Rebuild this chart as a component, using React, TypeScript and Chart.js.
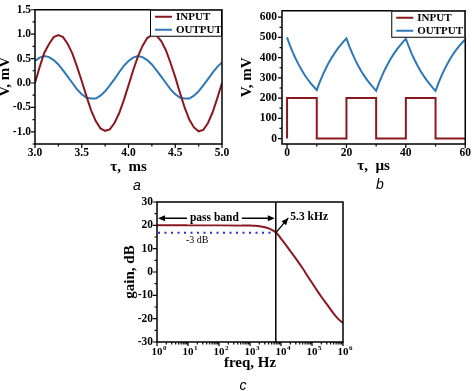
import React, { useEffect, useRef } from 'react';
import { Chart, registerables } from 'chart.js';

Chart.register(...registerables);

// ---------- Panel a: sine response ----------
const aTime = [3.0, 3.05, 3.1, 3.15, 3.2, 3.25, 3.3, 3.35, 3.4, 3.45, 3.5, 3.55, 3.6, 3.65, 3.7, 3.75, 3.8, 3.85, 3.9, 3.95, 4.0, 4.05, 4.1, 4.15, 4.2, 4.25, 4.3, 4.35, 4.4, 4.45, 4.5, 4.55, 4.6, 4.65, 4.7, 4.75, 4.8, 4.85, 4.9, 4.95, 5.0];
const aInput = [0, 0.33, 0.62, 0.8, 0.94, 0.98, 0.94, 0.8, 0.6, 0.33, 0.04, -0.27, -0.56, -0.78, -0.93, -0.98, -0.95, -0.82, -0.62, -0.35, -0.05, 0.26, 0.54, 0.76, 0.92, 0.98, 0.97, 0.86, 0.67, 0.41, 0.12, -0.2, -0.5, -0.75, -0.91, -0.99, -0.96, -0.82, -0.6, -0.31, 0.0];
const aOutput = [0.45, 0.52, 0.55, 0.53, 0.47, 0.38, 0.26, 0.13, 0.0, -0.13, -0.23, -0.3, -0.32, -0.32, -0.26, -0.17, -0.05, 0.08, 0.22, 0.35, 0.45, 0.52, 0.55, 0.53, 0.47, 0.38, 0.26, 0.13, 0.0, -0.13, -0.23, -0.3, -0.32, -0.32, -0.26, -0.17, -0.05, 0.08, 0.21, 0.33, 0.42];

// ---------- Panel b: square-wave response ----------
const bInputTime = [0, 0, 10, 10, 20, 20, 30, 30, 40, 40, 50, 50, 60];
const bInputValue = [0, 200, 200, 0, 0, 200, 200, 0, 0, 200, 200, 0, 0];
const bOutputTime = [0, 1, 2, 3, 4, 5, 6, 7, 8, 9, 10, 11, 12, 13, 14, 15, 16, 17, 18, 19, 20, 21, 22, 23, 24, 25, 26, 27, 28, 29, 30, 31, 32, 33, 34, 35, 36, 37, 38, 39, 40, 41, 42, 43, 44, 45, 46, 47, 48, 49, 50, 51, 52, 53, 54, 55, 56, 57, 58, 59, 60];
const bOutputValue = [
  500, 460, 424, 392, 363, 337, 313, 292, 273, 256, 240,
  279, 314, 345, 374, 399, 422, 443, 462, 479, 495,
  455, 420, 388, 359, 333, 310, 289, 270, 253, 236,
  276, 311, 343, 371, 397, 420, 441, 460, 477, 494,
  454, 419, 387, 359, 333, 310, 289, 270, 252, 236,
  275, 310, 342, 370, 396, 419, 440, 458, 475, 490,
];

// ---------- Panel c: frequency response ----------
const cFreq = [1, 10, 100, 500, 1000, 1500, 2000, 3000, 4000, 5000, 6000, 6800, 8000, 10000, 14000, 20000, 30000, 50000, 70000, 100000, 150000, 200000, 300000, 500000, 700000, 1000000];
const cGain = [20, 20, 20, 19.98, 19.92, 19.8, 19.62, 19.2, 18.7, 18.1, 17.5, 16.9, 16.0, 14.3, 11.8, 9.0, 5.8, 1.6, -1.5, -4.6, -8.2, -10.6, -13.8, -17.8, -20.1, -21.9];
const cutoffFreq = 6800;
const cutoffLabel = '5.3 kHz';
const minus3dBLevel = 16.8;
const minus3dBLabel = '-3 dB';
const passBandLabel = 'pass band';
const passBandLevel = 23;
const cutoffLabelFreq = 20000;
const cutoffLabelGain = 23.6;
const minus3dBLabelFreq = 8.6;
const minus3dBLabelGain = 13.6;

const seriesLabels = ['INPUT', 'OUTPUT'];
const panelLetters = ['a', 'b', 'c'];

const RED = '#8a1820';
const BLUE = '#2f77b5';
const DOT_BLUE = '#2a2ad8';
const SERIF = '"Liberation Serif", "Times New Roman", serif';

const toXY = (xs: number[], ys: number[]) => xs.map((x, i) => ({ x, y: ys[i] }));

function linearTicks(min: number, max: number, step: number, major: number) {
  return (scale: any) => {
    const ticks: any[] = [];
    const i0 = Math.ceil(min / step - 1e-9);
    const i1 = Math.floor(max / step + 1e-9);
    for (let i = i0; i <= i1; i++) {
      const v = Math.round(i * step * 1e6) / 1e6;
      const r = v / major;
      ticks.push({ value: v, major: Math.abs(r - Math.round(r)) < 1e-6 });
    }
    scale.ticks = ticks;
  };
}

function logTicks(minExp: number, maxExp: number) {
  return (scale: any) => {
    const ticks: any[] = [];
    for (let e = minExp; e <= maxExp; e++) {
      for (let m = 1; m <= 9; m++) {
        if (e === maxExp && m > 1) break;
        ticks.push({ value: m * Math.pow(10, e), major: m === 1 });
      }
    }
    scale.ticks = ticks;
  };
}

const tickFont = { family: SERIF, size: 11.5, weight: 'bold' as const, lineHeight: 1 };
const titleFont = { family: SERIF, size: 15, weight: 'bold' as const, lineHeight: 1 };

const axesPlugin = {
  id: 'originAxes',
  afterDatasetsDraw(chart: any) {
    const { ctx, chartArea: a } = chart;
    const xs = chart.scales.x;
    const ys = chart.scales.y;
    ctx.save();
    ctx.strokeStyle = '#000';
    ctx.lineWidth = 1.5;
    ctx.strokeRect(a.left, a.top, a.right - a.left, a.bottom - a.top);
    ctx.lineWidth = 1.2;
    ctx.beginPath();
    xs.ticks.forEach((t: any) => {
      const p = xs.getPixelForValue(t.value);
      const len = t.major ? 4 : 2.5;
      ctx.moveTo(p, a.bottom);
      ctx.lineTo(p, a.bottom + len);
    });
    ys.ticks.forEach((t: any) => {
      const p = ys.getPixelForValue(t.value);
      const len = t.major ? 4 : 2.5;
      ctx.moveTo(a.left, p);
      ctx.lineTo(a.left - len, p);
    });
    ctx.stroke();
    ctx.restore();
  },
};

// exponent superscripts for the log axis "10" labels
const exponentPlugin = {
  id: 'logExponents',
  afterDraw(chart: any) {
    const { ctx, chartArea: a } = chart;
    const xs = chart.scales.x;
    ctx.save();
    ctx.font = `bold 11px ${SERIF}`;
    const baseW = ctx.measureText('10').width;
    ctx.font = `bold 7px ${SERIF}`;
    ctx.fillStyle = '#000';
    ctx.textAlign = 'left';
    ctx.textBaseline = 'middle';
    xs.ticks.forEach((t: any) => {
      if (!t.major) return;
      const p = xs.getPixelForValue(t.value);
      const e = String(Math.round(Math.log10(t.value)));
      ctx.fillText(e, p + baseW / 2 + 0.5, a.bottom + 6.5);
    });
    ctx.restore();
  },
};

function legendPlugin(boxW: number, boxH: number) {
  return {
    id: 'insideLegend',
    afterDraw(chart: any) {
      const { ctx, chartArea: a } = chart;
      const left = a.right - boxW;
      const top = a.top;
      ctx.save();
      ctx.fillStyle = '#fff';
      ctx.fillRect(left, top, boxW, boxH);
      ctx.strokeStyle = '#000';
      ctx.lineWidth = 1;
      ctx.strokeRect(left + 0.5, top + 0.5, boxW - 1, boxH - 1);
      chart.data.datasets.forEach((ds: any, i: number) => {
        const y = top + 7 + i * 13;
        ctx.strokeStyle = ds.borderColor;
        ctx.lineWidth = 2;
        ctx.beginPath();
        ctx.moveTo(left + 5, y);
        ctx.lineTo(left + 22, y);
        ctx.stroke();
        ctx.fillStyle = '#000';
        ctx.font = `bold 11px ${SERIF}`;
        ctx.textBaseline = 'middle';
        ctx.textAlign = 'left';
        ctx.fillText(ds.label, left + 26, y + 0.5);
      });
      ctx.restore();
    },
  };
}

function arrowHead(ctx: any, fx: number, fy: number, tx: number, ty: number, len = 7, half = 3) {
  const ang = Math.atan2(ty - fy, tx - fx);
  ctx.beginPath();
  ctx.moveTo(tx, ty);
  ctx.lineTo(tx - len * Math.cos(ang) + half * Math.sin(ang), ty - len * Math.sin(ang) - half * Math.cos(ang));
  ctx.lineTo(tx - len * Math.cos(ang) - half * Math.sin(ang), ty - len * Math.sin(ang) + half * Math.cos(ang));
  ctx.closePath();
  ctx.fill();
}

const bodePlugin = {
  id: 'bodeAnnotations',
  afterDatasetsDraw(chart: any) {
    const { ctx, chartArea: a } = chart;
    const xs = chart.scales.x;
    const ys = chart.scales.y;
    const xc = xs.getPixelForValue(cutoffFreq);
    ctx.save();
    const y3 = ys.getPixelForValue(minus3dBLevel);
    ctx.strokeStyle = DOT_BLUE;
    ctx.lineWidth = 2;
    ctx.setLineDash([2, 4.5]);
    ctx.beginPath();
    ctx.moveTo(a.left + 1, y3);
    ctx.lineTo(xc, y3);
    ctx.stroke();
    ctx.setLineDash([]);
    ctx.strokeStyle = '#000';
    ctx.lineWidth = 1.5;
    ctx.beginPath();
    ctx.moveTo(xc, a.top);
    ctx.lineTo(xc, a.bottom);
    ctx.stroke();
    const yp = ys.getPixelForValue(passBandLevel);
    ctx.lineWidth = 1.5;
    ctx.fillStyle = '#000';
    ctx.beginPath();
    ctx.moveTo(a.left + 6, yp);
    ctx.lineTo(xc - 6, yp);
    ctx.stroke();
    arrowHead(ctx, xc - 10, yp, a.left + 1, yp);
    arrowHead(ctx, a.left + 10, yp, xc - 1, yp);
    ctx.font = `bold 11.5px ${SERIF}`;
    ctx.textAlign = 'center';
    ctx.textBaseline = 'middle';
    const mid = (a.left + xc) / 2 - 2;
    const tw = ctx.measureText(passBandLabel).width;
    ctx.fillStyle = '#fff';
    ctx.fillRect(mid - tw / 2 - 3, yp - 6, tw + 6, 12);
    ctx.fillStyle = '#000';
    ctx.fillText(passBandLabel, mid, yp);
    const ycut = ys.getPixelForValue(minus3dBLevel);
    const hx = xs.getPixelForValue(cutoffLabelFreq) - 2;
    const hy = ys.getPixelForValue(cutoffLabelGain) + 1;
    ctx.lineWidth = 1.3;
    ctx.beginPath();
    ctx.moveTo(xc, ycut);
    ctx.lineTo(hx, hy);
    ctx.stroke();
    arrowHead(ctx, xc, ycut, hx, hy, 7, 3);
    ctx.textAlign = 'left';
    ctx.fillText(cutoffLabel, xs.getPixelForValue(cutoffLabelFreq), ys.getPixelForValue(cutoffLabelGain));
    ctx.font = `10px ${SERIF}`;
    ctx.fillText(minus3dBLabel, xs.getPixelForValue(minus3dBLabelFreq), ys.getPixelForValue(minus3dBLabelGain));
    ctx.restore();
  },
};

function yAxis(opts: any) {
  return {
    type: 'linear',
    position: 'left',
    min: opts.min,
    max: opts.max,
    afterBuildTicks: linearTicks(opts.min, opts.max, opts.step, opts.major),
    afterFit: (s: any) => { s.width = opts.width; },
    grid: { display: false, drawTicks: false, tickLength: 0 },
    border: { display: false },
    ticks: {
      autoSkip: false,
      padding: opts.labelPad,
      color: '#000',
      font: tickFont,
      callback: (v: any, i: number, t: any[]) => (t[i].major ? opts.fmt(v) : ''),
    },
    title: { display: true, text: opts.title, color: '#000', font: titleFont, padding: { top: opts.titlePad, bottom: 0 } },
  };
}

function xAxisLinear(opts: any) {
  return {
    type: 'linear',
    position: 'bottom',
    min: opts.min,
    max: opts.max,
    afterBuildTicks: linearTicks(opts.min, opts.max, opts.step, opts.major),
    afterFit: (s: any) => { s.height = opts.height; },
    grid: { display: false, drawTicks: false, tickLength: 0 },
    border: { display: false },
    ticks: {
      autoSkip: false,
      maxRotation: 0,
      padding: opts.labelPad,
      color: '#000',
      font: tickFont,
      callback: (v: any, i: number, t: any[]) => (t[i].major ? opts.fmt(v) : ''),
    },
    title: { display: true, text: opts.title, color: '#000', font: titleFont, padding: { top: 0, bottom: opts.titlePad } },
  };
}

const lineDs = (label: string, data: any[], color: string) => ({
  label,
  data,
  showLine: true,
  borderColor: color,
  backgroundColor: color,
  borderWidth: 2,
  pointRadius: 0,
  tension: 0,
  fill: false,
});

function configA() {
  return {
    type: 'scatter',
    data: {
      datasets: [
        lineDs(seriesLabels[0], toXY(aTime, aInput), RED),
        lineDs(seriesLabels[1], toXY(aTime, aOutput), BLUE),
      ],
    },
    options: {
      responsive: false,
      animation: false,
      events: [],
      layout: { padding: { top: 5, right: 15, left: 0, bottom: 0 } },
      plugins: { legend: { display: false }, tooltip: { enabled: false } },
      scales: {
        x: xAxisLinear({ min: 3, max: 5, step: 0.25, major: 0.5, height: 36, labelPad: 3, fmt: (v: number) => v.toFixed(1), title: 'τ,  ms', titlePad: 5 }),
        y: yAxis({ min: -1.25, max: 1.5, step: 0.25, major: 0.5, width: 35, labelPad: 4, fmt: (v: number) => v.toFixed(1), title: 'V, mV', titlePad: -2.5 }),
      },
    },
    plugins: [axesPlugin, legendPlugin(72, 27)],
  };
}

function configB() {
  return {
    type: 'scatter',
    data: {
      datasets: [
        lineDs(seriesLabels[0], toXY(bInputTime, bInputValue), RED),
        lineDs(seriesLabels[1], toXY(bOutputTime, bOutputValue), BLUE),
      ],
    },
    options: {
      responsive: false,
      animation: false,
      events: [],
      layout: { padding: { top: 5, right: 5, left: 0, bottom: 0 } },
      plugins: { legend: { display: false }, tooltip: { enabled: false } },
      scales: {
        x: xAxisLinear({ min: -1.7, max: 60, step: 10, major: 20, height: 36, labelPad: 3, fmt: (v: number) => String(v), title: 'τ,  µs', titlePad: 6.5 }),
        y: yAxis({ min: -27, max: 632, step: 50, major: 100, width: 45, labelPad: 5, fmt: (v: number) => String(v), title: 'V, mV', titlePad: 2.5 }),
      },
    },
    plugins: [axesPlugin, legendPlugin(74, 27)],
  };
}

function configC() {
  return {
    type: 'scatter',
    data: {
      datasets: [
        {
          ...lineDs('gain', toXY(cFreq, cGain), RED),
          cubicInterpolationMode: 'monotone',
        },
      ],
    },
    options: {
      responsive: false,
      animation: false,
      events: [],
      layout: { padding: { top: 12, right: 17, left: 0, bottom: 0 } },
      plugins: { legend: { display: false }, tooltip: { enabled: false } },
      scales: {
        x: {
          type: 'logarithmic',
          position: 'bottom',
          min: 1,
          max: 1e6,
          afterBuildTicks: logTicks(0, 6),
          afterFit: (s: any) => { s.height = 38; },
          grid: { display: false, drawTicks: false, tickLength: 0 },
          border: { display: false },
          ticks: {
            autoSkip: false,
            maxRotation: 0,
            padding: 4.5,
            color: '#000',
            font: { family: SERIF, size: 11, weight: 'bold' as const, lineHeight: 1 },
            callback: (v: any, i: number, t: any[]) => (t[i].major ? '10' : ''),
          },
          title: { display: true, text: 'freq, Hz', color: '#000', font: titleFont, padding: { top: 0, bottom: 9.5 } },
        },
        y: yAxis({ min: -30, max: 30, step: 5, major: 10, width: 57, labelPad: 4, fmt: (v: number) => String(v), title: 'gain, dB', titlePad: 22.5 }),
      },
    },
    plugins: [axesPlugin, bodePlugin, exponentPlugin],
  };
}

function Panel({ make, left, top, width, height }: any) {
  const ref = useRef<HTMLCanvasElement>(null);
  useEffect(() => {
    const chart = new Chart(ref.current as HTMLCanvasElement, make() as any);
    return () => chart.destroy();
  }, []);
  return (
    <canvas
      ref={ref}
      width={width}
      height={height}
      style={{ position: 'absolute', left, top, width, height }}
    />
  );
}

const letterStyle = (x: number, y: number): React.CSSProperties => ({
  position: 'absolute',
  left: x,
  top: y,
  transform: 'translate(-50%, -50%)',
  font: 'italic 14px "Liberation Sans", Arial, sans-serif',
  color: '#000',
  lineHeight: '14px',
});

export default function App() {
  return (
    <div style={{ position: 'absolute', left: 0, top: 0, width: 474, height: 391, background: '#fff', overflow: 'hidden' }}>
      <Panel make={configA} left={0} top={0} width={237} height={180} />
      <Panel make={configB} left={237} top={0} width={237} height={180} />
      <Panel make={configC} left={100} top={190} width={260} height={190} />
      <div style={letterStyle(137, 185)}>{panelLetters[0]}</div>
      <div style={letterStyle(380, 184)}>{panelLetters[1]}</div>
      <div style={letterStyle(243, 385)}>{panelLetters[2]}</div>
    </div>
  );
}
